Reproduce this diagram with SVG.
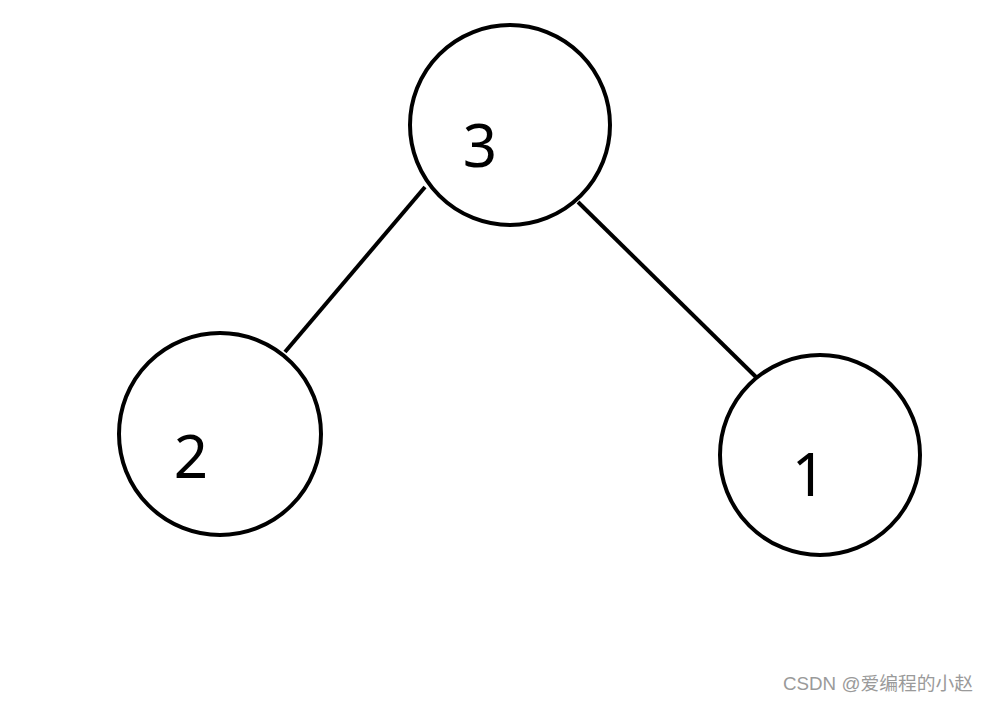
<svg xmlns="http://www.w3.org/2000/svg" width="988" height="702" viewBox="0 0 988 702">
<style>
.node{fill:#fff;stroke:#000;stroke-width:4}
.lbl{font-family:"Noto Sans","Open Sans",sans-serif;font-size:60px;fill:#000;text-anchor:middle}
.edge{stroke:#000;stroke-width:4;fill:none}
.wm{font-family:"Liberation Sans","Noto Sans CJK SC",sans-serif;font-size:18px;fill:#9a9a9a}
</style>
<rect width="988" height="702" fill="#fff"/>
<g id="edges">
<line class="edge" x1="425" y1="187" x2="285" y2="352"/>
<line class="edge" x1="578" y1="202" x2="756" y2="377"/>
</g>
<g id="node3"><circle class="node" cx="510" cy="125" r="100"/><text class="lbl" x="480" y="167">3</text></g>
<g id="node2"><circle class="node" cx="220" cy="434" r="101"/><text class="lbl" x="191" y="478">2</text></g>
<g id="node1"><circle class="node" cx="820" cy="455" r="100"/><text class="lbl" x="809" y="496">1</text></g>
<text class="wm" x="783" y="690" textLength="190" lengthAdjust="spacingAndGlyphs">CSDN @爱编程的小赵</text>
</svg>
